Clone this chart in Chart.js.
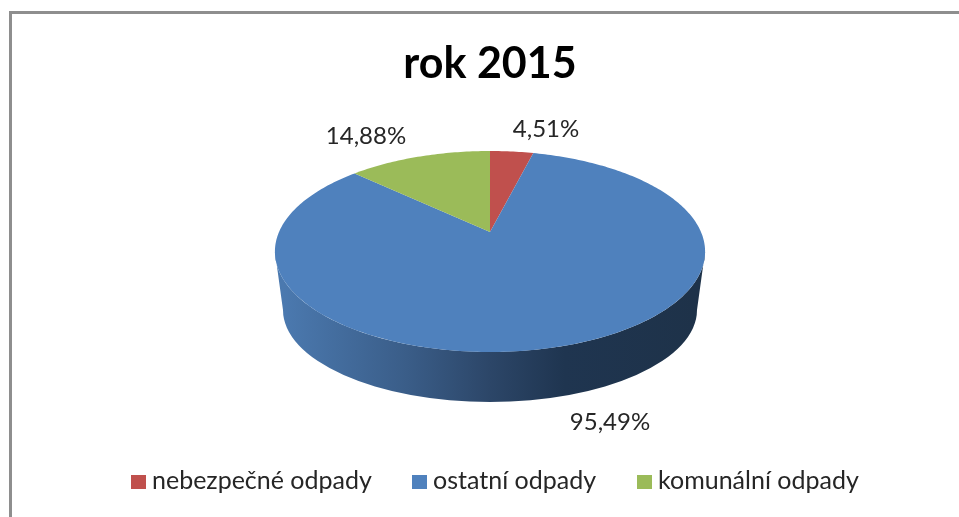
<!DOCTYPE html>
<html>
<head>
<meta charset="utf-8">
<title>rok 2015</title>
<script src="https://cdn.jsdelivr.net/npm/chart.js@4/dist/chart.umd.min.js"></script>
<style>
  html, body { margin: 0; padding: 0; background: #fff; overflow: hidden; }
  #wrap { position: relative; width: 959px; height: 517px; }
  #frame { position: absolute; left: 9px; top: 11px; right: 0; bottom: 0;
           border-left: 3px solid #8e8e8e; border-top: 3px solid #8e8e8e; }
  canvas { position: absolute; left: 0; top: 0; }
</style>
</head>
<body>
<div id="wrap">
  <div id="frame"></div>
  <canvas id="pie" width="959" height="517"></canvas>
</div>
<script>
const categories = ["nebezpečné odpady", "ostatní odpady", "komunální odpady"];
const values = [4.51, 95.49, 14.88];
const valueLabels = ["4,51%", "95,49%", "14,88%"];
const colors = ["#C0504D", "#4F81BD", "#9BBB59"];
const labelPositions = [[546, 129], [610, 422], [366, 136]];
const legendBoxX = [131, 412, 637];
const fontFamily = 'Lato, "Open Sans", sans-serif';

// perspective of the tilted pie: apex, half width, near/far reach
const view = { x: 490, y: 232, c: 211, a: 96.7, b: -0.194 };
// bottom rim of the side wall
const rim = { x: 490, y: 310, rx: 207, ry: 92 };
// where the top ellipse is widest, the wall starts there
const wallLimit = Math.asin(-view.b);

function project(angle) {
  const u = Math.cos(angle), v = Math.sin(angle);
  const w = 1 + view.b * v;
  return [view.x + view.c * u / w, view.y + view.a * v / w];
}

// angles arrive from the library's arc elements, canvas convention
function drawWall(ctx, start, end) {
  const from = Math.max(start, wallLimit), to = Math.min(end, Math.PI - wallLimit);
  if (to <= from) return;
  const grad = ctx.createLinearGradient(rim.x - rim.rx, 0, rim.x + rim.rx, 0);
  grad.addColorStop(0, "#4b79af");
  grad.addColorStop(0.3, "#3a5d88");
  grad.addColorStop(0.5, "#2c4668");
  grad.addColorStop(0.68, "#1f3550");
  grad.addColorStop(1, "#1e3249");
  ctx.beginPath();
  const steps = 120;
  for (let i = 0; i <= steps; i++) {
    const p = project(from + (to - from) * i / steps);
    i ? ctx.lineTo(p[0], p[1]) : ctx.moveTo(p[0], p[1]);
  }
  ctx.ellipse(rim.x, rim.y, rim.rx, rim.ry, 0, Math.PI, 0, true);
  ctx.closePath();
  ctx.fillStyle = grad;
  ctx.fill();
}

function drawSlice(ctx, start, end, color) {
  const steps = Math.max(8, Math.ceil((end - start) * 60));
  ctx.beginPath();
  ctx.moveTo(view.x, view.y);
  for (let i = 0; i <= steps; i++) {
    const p = project(start + (end - start) * i / steps);
    ctx.lineTo(p[0], p[1]);
  }
  ctx.closePath();
  ctx.fillStyle = color;
  ctx.fill();
}

const tiltedPie = {
  id: "tiltedPie",
  beforeDatasetDraw(chart, args) {
    const ctx = chart.ctx;
    const arcs = args.meta.data;
    ctx.save();
    arcs.forEach(arc => drawWall(ctx, arc.startAngle, arc.endAngle));
    arcs.forEach((arc, i) => drawSlice(ctx, arc.startAngle, arc.endAngle, colors[i]));

    ctx.font = "24px " + fontFamily;
    ctx.fillStyle = "#262626";
    ctx.textAlign = "center";
    ctx.textBaseline = "middle";
    valueLabels.forEach((t, i) => ctx.fillText(t, labelPositions[i][0], labelPositions[i][1]));

    // legend by hand, the library's gap between box and text is too wide here
    ctx.font = "25px " + fontFamily;
    ctx.textAlign = "left";
    categories.forEach((name, i) => {
      ctx.fillStyle = colors[i];
      ctx.fillRect(legendBoxX[i], 475, 15, 14);
      ctx.fillStyle = "#262626";
      ctx.fillText(name, legendBoxX[i] + 21, 481);
    });
    ctx.restore();
    return false;
  }
};

new Chart(document.getElementById("pie"), {
  type: "pie",
  data: {
    labels: categories,
    datasets: [{ data: values, backgroundColor: colors, borderWidth: 0 }]
  },
  plugins: [tiltedPie],
  options: {
    responsive: false,
    animation: false,
    layout: { padding: { top: 38, bottom: 14, left: 21, right: 0 } },
    plugins: {
      tooltip: { enabled: false },
      legend: { display: false },
      title: {
        display: true,
        text: "rok 2015",
        color: "#000",
        font: { family: fontFamily, size: 43, weight: "bold" },
        padding: { top: 0, bottom: 10 }
      }
    }
  }
});
</script>
</body>
</html>
